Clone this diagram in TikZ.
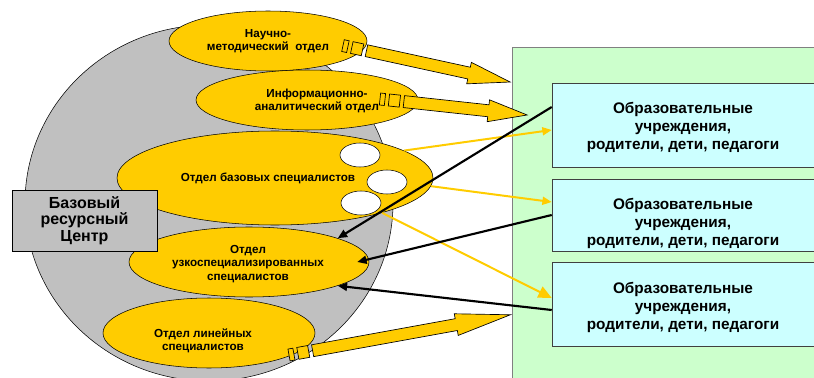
\documentclass[tikz,border=0pt]{standalone}
\usepackage{fontspec}
\setmainfont{Liberation Sans}
\usepackage{tikz}
\usepackage{xcolor}
\usetikzlibrary{arrows.meta, positioning, shapes.geometric, calc}
\definecolor{zheltyj}{RGB}{255,204,0}
\definecolor{seryj}{RGB}{192,192,192}
\definecolor{zelenyj}{RGB}{204,255,204}
\definecolor{goluboj}{RGB}{204,255,255}

\newcommand{\stripearrow}[4]{% tail, angle, length, head length
  \begin{scope}[shift={(#1)}, rotate=#2]
    \draw[blok] (0,-6) rectangle (5,6);
    \draw[blok] (9,-6) rectangle (20,6);
    \draw[blok] (24,-6) -- ({#3-#4},-6) -- ({#3-#4},-11) -- (#3,0)
      -- ({#3-#4},11) -- ({#3-#4},6) -- (24,6) -- cycle;
  \end{scope}}

\begin{document}
\begin{tikzpicture}[
    x=0.75pt, y=-0.75pt,
    otdel/.style={ellipse, draw, fill=zheltyj, inner sep=0pt},
    dyrka/.style={ellipse, draw, fill=white, minimum width=30pt, minimum height=18pt, inner sep=0pt},
    ltext/.style={font=\bfseries\fontsize{8.75}{10}\selectfont, align=center},
    btext/.style={font=\bfseries\fontsize{11.5}{13.5}\selectfont, align=center},
    ou/.style={rectangle, draw=black!75, fill=goluboj, minimum width=198pt, inner sep=0pt},
    blok/.style={draw, fill=zheltyj, line width=0.5pt},
    yline/.style={draw=zheltyj, line width=1.5pt, -{Triangle[length=7pt, width=6pt]}},
    kline/.style={draw=black, line width=1.6pt, -{Triangle[length=7pt, width=6pt]}}
]
\useasboundingbox (0,0) rectangle (814,378);
\clip (0,0) rectangle (814,378);

% Background
\draw[fill=seryj] (209,203) ellipse [x radius=184, y radius=178];
\draw[fill=zelenyj, draw=black!50] (512,47) rectangle (840,400);

% Departments
\node[otdel, minimum width=148.5pt, minimum height=45pt] (nauch) at (268,41) {};
\node[otdel, minimum width=166.5pt, minimum height=45pt] (inform) at (307,100) {};
\node[otdel, minimum width=237pt, minimum height=70.5pt] (baza) at (275,178) {};
\node[dyrka] (d1) at (360,155) {};
\node[dyrka] (d2) at (387,182) {};
\node[dyrka] (d3) at (361,203) {};
\node[otdel, minimum width=180pt, minimum height=52.5pt] (uzko) at (249,262) {};
\node[otdel, minimum width=159pt, minimum height=52.5pt] (lin) at (209,333) {};

\node[ltext] (nauch-t) at (268,41) {Научно-\\методический\ \ отдел};
\node[ltext] (inform-t) at (317,101) {Информационно-\\аналитический отдел};
\node[ltext] (baza-t) at (268,178) {Отдел базовых специалистов};
\node[ltext] (uzko-t) at (248,264) {Отдел\\узкоспециализированных\\специалистов};
\node[ltext] (lin-t) at (203,341) {Отдел линейных\\специалистов};

\node[draw, fill=seryj, minimum width=108.75pt, minimum height=45.75pt, inner sep=0pt,
      font=\bfseries\fontsize{12}{12.5}\selectfont, align=center] (brc) at (84.5,220.5)
      {Базовый\\ресурсный\\Центр};

% Institutions
\node[ou, minimum height=63pt] (ou1) at (684,125) {};
\node[ou, minimum height=54pt] (ou2) at (684,215) {};
\node[ou, minimum height=63pt] (ou3) at (684,304) {};
\node[btext] (ou1-t) at (683,127) {Образовательные\\учреждения,\\родители, дети, педагоги};
\node[btext] (ou2-t) at (683,223) {Образовательные\\учреждения,\\родители, дети, педагоги};
\node[btext] (ou3-t) at (683,307) {Образовательные\\учреждения,\\родители, дети, педагоги};

% Block arrows
\stripearrow{343,45.6}{-12.3}{171}{42}
\stripearrow{380,99}{-6.2}{148}{39}
\stripearrow{289,355}{10.3}{225}{55}

% Edges
\draw[yline] (baza.12) -- ($(ou1.west)+(0,5)$);
\draw[yline] (baza.-3) -- ($(ou2.west)+(0,-13)$);
\draw[yline, -{Triangle[length=10pt, width=9pt]}] (baza.-18) -- ($(ou3.west)+(0,-6)$);
\draw[kline] ($(ou1.west)+(0,-18)$) -- (uzko.15);
\draw[kline] (ou2.west) -- ($(uzko.east)+(-12,0)$);
\draw[kline] ($(ou3.west)+(0,6)$) -- (uzko.-15);

\end{tikzpicture}
\end{document}
